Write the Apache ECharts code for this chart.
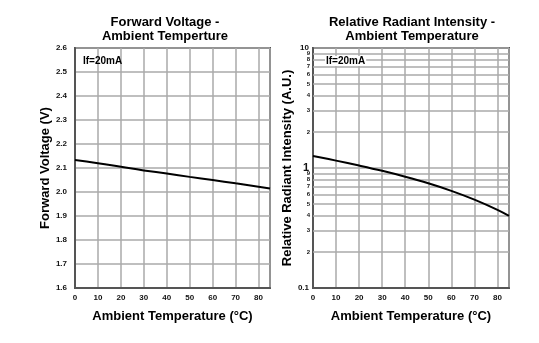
<!DOCTYPE html>
<html><head><meta charset="utf-8">
<script src="https://cdn.jsdelivr.net/npm/echarts@6/dist/echarts.min.js"></script>
<style>html,body{margin:0;padding:0;background:#fff}#c{width:539px;height:343px}</style>
</head><body><div id="c"></div>
<script>
var temps = [0, 10, 20, 30, 40, 50, 60, 70, 80, 85];
var forwardVoltage = [2.133, 2.12, 2.105, 2.09, 2.077, 2.063, 2.05, 2.036, 2.022, 2.015];
var relIntensity = [1.26, 1.152, 1.048, 0.947, 0.846, 0.746, 0.645, 0.545, 0.448, 0.399];
var minorValues = [0.2, 0.3, 0.4, 0.5, 0.6, 0.7, 0.8, 0.9, 2, 3, 4, 5, 6, 7, 8, 9];
var minorLabels = ['2', '3', '4', '5', '6', '7', '8', '9', '2', '3', '4', '5', '6', '7', '8', '9'];

var FONT = 'Liberation Sans, Arial, sans-serif';
var gridColor = '#aaaaaa';
var borderColor = '#555555';

function pairs(xs, ys) { return xs.map(function (x, i) { return [x, ys[i]]; }); }

function xAxisCfg(gi) {
  return {
    type: 'value', gridIndex: gi, min: 0, max: 85, interval: 10,
    name: 'Ambient Temperature (°C)', nameLocation: 'middle', nameGap: 22,
    nameTextStyle: { fontFamily: FONT, fontWeight: 'bold', fontSize: 13, color: '#000' },
    axisLine: { show: true, lineStyle: { color: borderColor, width: 2 } },
    axisTick: { show: false },
    axisLabel: { fontFamily: FONT, fontWeight: 'bold', fontSize: 8, color: '#111', margin: 6,
      formatter: function (v) { return v % 10 === 0 ? String(v) : ''; } },
    splitLine: { show: true, lineStyle: { color: gridColor, width: 1.5 } }
  };
}

var option = {
  animation: false,
  backgroundColor: '#fff',
  title: [
    { text: 'Forward Voltage -\nAmbient Temperture', left: 160, top: 10, textAlign: 'center',
      textStyle: { fontFamily: FONT, fontWeight: 'bold', fontSize: 13, lineHeight: 14, color: '#000' } },
    { text: 'Relative Radiant Intensity -\nAmbient Temperature', left: 407, top: 10, textAlign: 'center',
      textStyle: { fontFamily: FONT, fontWeight: 'bold', fontSize: 13, lineHeight: 14, color: '#000' } }
  ],
  grid: [
    { left: 75, top: 48, width: 195, height: 240, show: true, borderColor: borderColor, borderWidth: 2, backgroundColor: 'transparent' },
    { left: 313, top: 48, width: 196, height: 240, show: true, borderColor: borderColor, borderWidth: 2, backgroundColor: 'transparent' }
  ],
  xAxis: [xAxisCfg(0), xAxisCfg(1)],
  yAxis: [
    { type: 'value', gridIndex: 0, min: 1.6, max: 2.6, interval: 0.1,
      name: 'Forward Voltage (V)', nameLocation: 'middle', nameGap: 23,
      nameTextStyle: { fontFamily: FONT, fontWeight: 'bold', fontSize: 13, color: '#000' },
      axisLine: { show: true, lineStyle: { color: borderColor, width: 2 } },
      axisTick: { show: false },
      axisLabel: { fontFamily: FONT, fontWeight: 'bold', fontSize: 8, color: '#111', margin: 8,
        formatter: function (v) { return v.toFixed(1); } },
      splitLine: { show: true, lineStyle: { color: gridColor, width: 1.5 } } },
    { type: 'log', logBase: 10, gridIndex: 1, min: 0.1, max: 10,
      name: 'Relative Radiant Intensity (A.U.)', nameLocation: 'middle', nameGap: 17,
      nameTextStyle: { fontFamily: FONT, fontWeight: 'bold', fontSize: 13, color: '#000' },
      axisLine: { show: true, lineStyle: { color: borderColor, width: 2 } },
      axisTick: { show: false },
      axisLabel: { fontFamily: FONT, fontWeight: 'bold', fontSize: 8, color: '#111', margin: 4,
        formatter: function (v) {
          if (Math.abs(v - 1) < 1e-6) return '{big|1}';
          if (Math.abs(v - 10) < 1e-6) return '10';
          if (Math.abs(v - 0.1) < 1e-6) return '0.1';
          return '';
        },
        rich: { big: { fontFamily: FONT, fontWeight: 'bold', fontSize: 11, color: '#111' } } },
      splitLine: { show: true, lineStyle: { color: gridColor, width: 1.5 } } }
  ],
  series: [
    { type: 'line', xAxisIndex: 0, yAxisIndex: 0, data: pairs(temps, forwardVoltage), smooth: true,
      showSymbol: false, lineStyle: { color: '#000', width: 2 }, silent: true, z: 5 },
    { type: 'line', xAxisIndex: 1, yAxisIndex: 1, data: pairs(temps, relIntensity), smooth: 0.4,
      showSymbol: false, lineStyle: { color: '#000', width: 2 }, silent: true, z: 5,
      markLine: {
        silent: true, symbol: 'none', animation: false,
        lineStyle: { color: gridColor, width: 1.5, type: 'solid' },
        label: { show: true, position: 'start', distance: 3, fontFamily: FONT, fontWeight: 'bold', fontSize: 6, color: '#111' },
        data: minorValues.map(function (v, i) {
          return { yAxis: v, label: { formatter: minorLabels[i] } };
        })
      } }
  ],
  graphic: [
    { type: 'text', left: 83, top: 56, z: 10,
      style: { text: 'If=20mA', font: 'bold 10px ' + FONT, fill: '#000' } },
    { type: 'text', left: 325, top: 56, z: 10,
      style: { text: 'If=20mA', font: 'bold 10px ' + FONT, fill: '#000', backgroundColor: '#fff', padding: [0, 1] } }
  ]
};
var chart = echarts.init(document.getElementById('c'), null, { renderer: 'canvas' });
chart.setOption(option);
</script></body></html>
